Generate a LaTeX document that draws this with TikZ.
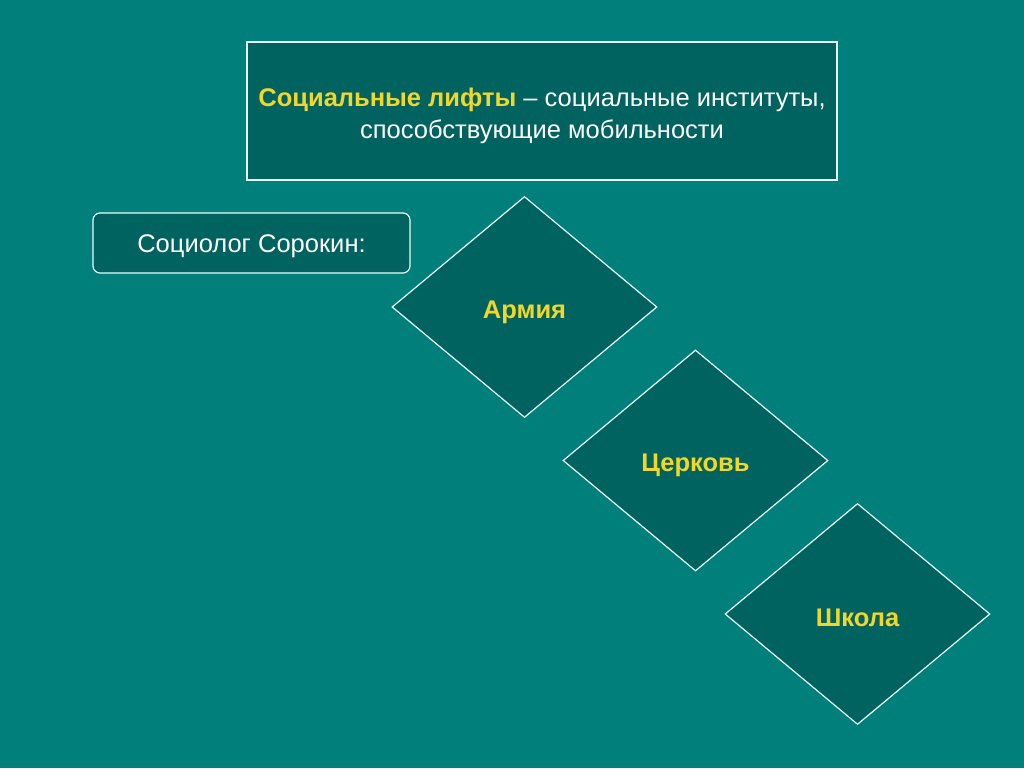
\documentclass[tikz,border=0pt]{standalone}
\usepackage{fontspec}
\setmainfont{Liberation Sans}
\usetikzlibrary{shapes.geometric}
\definecolor{bg}{HTML}{007F7B}
\definecolor{boxfill}{HTML}{006360}
\definecolor{ylw}{HTML}{F2D72A}
\definecolor{edge}{HTML}{E8FFFF}
\begin{document}
\begin{tikzpicture}[x=1pt,y=-1pt,
  txt/.style={text=white,font=\fontsize{25.5}{32}\selectfont},
  rhomb/.style={draw=edge,fill=boxfill,line width=1.2pt,diamond,minimum width=265pt,minimum height=221pt,inner sep=0pt,aspect=1.2},
  rlabel/.style={text=ylw,font=\bfseries\fontsize{25.5}{30}\selectfont,inner sep=0pt}]
\fill[bg] (0,0) rectangle (1024,768);
\useasboundingbox (0,0) rectangle (1024,768);
\node[draw=edge,fill=boxfill,line width=1.2pt,minimum width=590pt,minimum height=138pt,inner sep=0pt] (title) at (542,111) {};
\node[align=center,txt,inner sep=0pt] (titletext) at ([yshift=-4.5pt]title.center)
  {{\bfseries\color{ylw}Социальные лифты} – социальные институты,\\способствующие мобильности};
\node[draw=edge,fill=boxfill,line width=1.2pt,rounded corners=7pt,minimum width=317pt,minimum height=60pt,inner sep=0pt] (sorokin) at (251.5,243) {};
\node[txt,inner sep=0pt] (sorokintext) at ([yshift=-3pt]sorokin.center) {Социолог Сорокин:};
\node[rhomb] (army) at (524.5,307) {};
\node[rlabel] (armytext) at ([yshift=-5pt]army.center) {Армия};
\node[rhomb] (church) at (695.5,460.5) {};
\node[rlabel] (churchtext) at ([yshift=-5pt]church.center) {Церковь};
\node[rhomb] (school) at (857.5,614) {};
\node[rlabel] (schooltext) at ([yshift=-4pt]school.center) {Школа};
\end{tikzpicture}
\end{document}
